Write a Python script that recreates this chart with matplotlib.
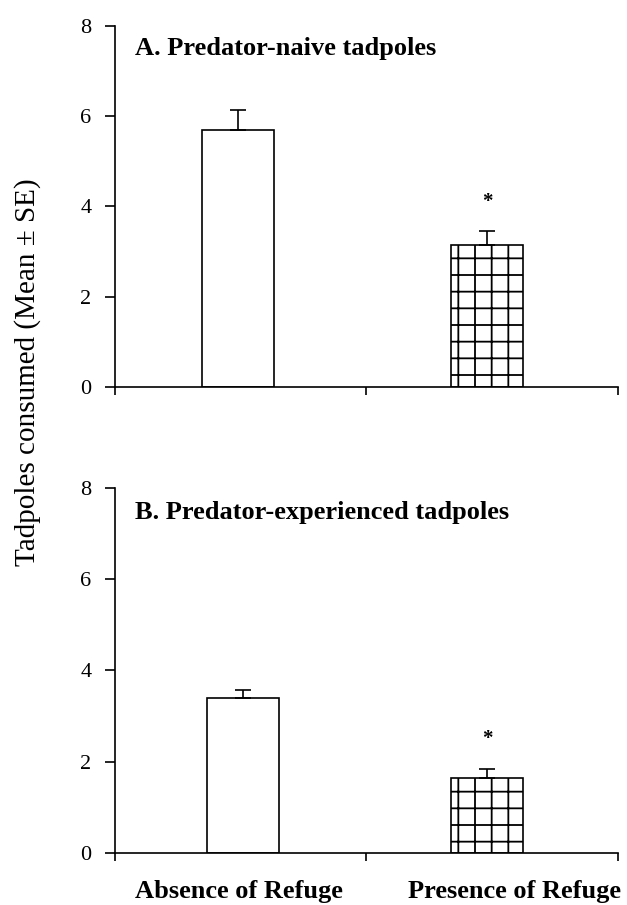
import matplotlib.pyplot as plt

plt.rcParams['font.family'] = ['Liberation Serif', 'DejaVu Serif']
plt.rcParams['hatch.linewidth'] = 1.3

# panel A: predator-naive tadpoles
naive_means = [5.7, 3.15]
naive_se = [0.43, 0.3]
# panel B: predator-experienced tadpoles
exp_means = [3.4, 1.65]
exp_se = [0.18, 0.2]

categories = ["Absence of Refuge", "Presence of Refuge"]
panel_titles = ["A. Predator-naive tadpoles", "B. Predator-experienced tadpoles"]
yticks = [0, 2, 4, 6, 8]

fig = plt.figure(figsize=(6.27, 9.05), dpi=100)
ax_a = fig.add_axes([0.1834, 0.5724, 0.8016, 0.3989])
ax_b = fig.add_axes([0.1834, 0.0575, 0.8016, 0.4033])


def draw_panel(ax, means, se, title, x_pos, title_y):
    for i in range(2):
        hatch = None if i == 0 else "+"
        ax.bar(x_pos[i], means[i], width=0.285, color="white",
               edgecolor="black", linewidth=1.2, hatch=hatch, zorder=2)
        ax.errorbar(x_pos[i], means[i], yerr=[[0], [se[i]]], fmt="none",
                    ecolor="black", elinewidth=1.2, capsize=6, capthick=1.2,
                    zorder=3)
    # significance marker on the refuge bar
    ax.text(x_pos[1], means[1] + se[1] + 0.65, "*", ha="center", va="center",
            fontsize=15, fontweight="bold")
    ax.set_xlim(0, 2)
    ax.set_ylim(0, 8)
    ax.set_yticks(yticks)
    ax.set_xticks([0, 1, 2])
    ax.set_xticklabels([])
    ax.spines["top"].set_visible(False)
    ax.spines["right"].set_visible(False)
    ax.spines["left"].set_linewidth(1.2)
    ax.spines["bottom"].set_linewidth(1.2)
    ax.tick_params(axis="y", direction="out", length=7, width=1.2,
                   labelsize=16, pad=10)
    ax.tick_params(axis="x", direction="out", length=6, width=1.2)
    ax.text(20 / 505, title_y, title, transform=ax.transAxes, fontsize=19,
            fontweight="bold", ha="left", va="center")


draw_panel(ax_a, naive_means, naive_se, panel_titles[0], [0.49, 1.48], 0.937)
draw_panel(ax_b, exp_means, exp_se, panel_titles[1], [0.51, 1.48], 0.934)

# category labels under the lower panel
fig.text(239 / 627, 1 - 891 / 905, categories[0], ha="center", va="center",
         fontsize=19, fontweight="bold")
fig.text(514 / 627, 1 - 891 / 905, categories[1], ha="center", va="center",
         fontsize=19, fontweight="bold")

fig.text(28 / 627, 1 - 372 / 905, "Tadpoles consumed (Mean \u00b1 SE)", rotation=90,
         ha="center", va="center", fontsize=21)

fig.savefig("out.png", dpi=100)
